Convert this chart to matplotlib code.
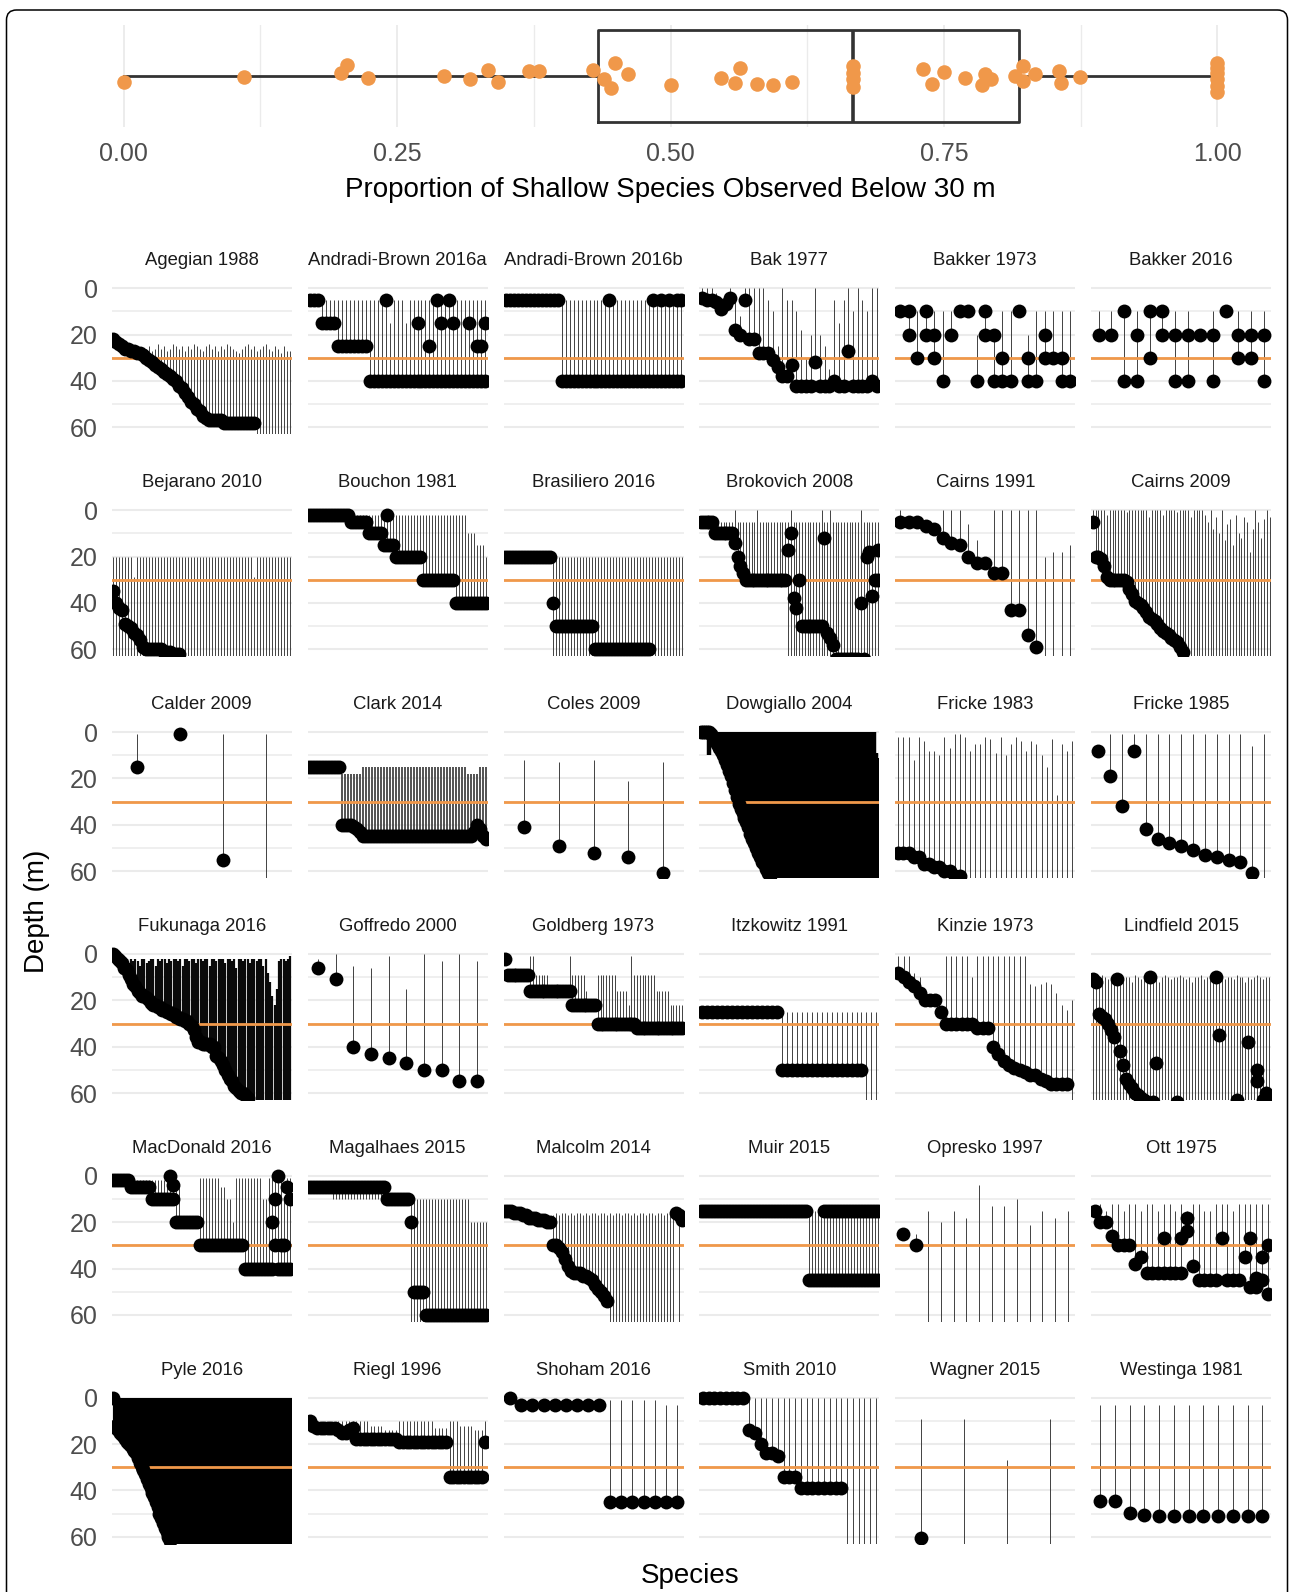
import numpy as np
import matplotlib
matplotlib.use("Agg")
import matplotlib.pyplot as plt
from matplotlib.patches import FancyBboxPatch
from matplotlib.transforms import IdentityTransform

plt.rcParams['font.family'] = ['Liberation Sans', 'DejaVu Sans']

# ---------------- top panel data ----------------
PROP_VALUES = [0.000, 0.110, 0.199, 0.204, 0.223, 0.293, 0.317, 0.333, 0.342, 0.371,
               0.380, 0.429, 0.439, 0.446, 0.449, 0.461, 0.500, 0.546, 0.559, 0.564,
               0.579, 0.594, 0.611, 0.667, 0.667, 0.667, 0.667, 0.731, 0.739, 0.750,
               0.769, 0.785, 0.788, 0.793, 0.815, 0.822, 0.822, 0.833, 0.855, 0.857,
               0.874, 1.000, 1.000, 1.000, 1.000, 1.000, 1.000]
PROP_JITTER = [-0.059, -0.007, 0.026, 0.105, -0.020, 0.000, -0.026, 0.059, -0.059, 0.049,
               0.049, 0.056, -0.026, -0.115, 0.131, 0.016, -0.092, -0.016, -0.066, 0.082,
               -0.082, -0.092, -0.059, 0.099, 0.033, -0.033, -0.105, 0.066, -0.082, 0.039,
               -0.023, -0.092, 0.016, -0.026, 0.000, 0.099, -0.049, 0.016, 0.049, -0.066,
               -0.007, 0.131, 0.082, 0.033, -0.033, -0.099, -0.158]
PROP_TICKS = [0.0, 0.25, 0.5, 0.75, 1.0]
PROP_TICKLABELS = ["0.00", "0.25", "0.50", "0.75", "1.00"]
DEPTH_TICKS = [0, 20, 40, 60]
THRESHOLD = 30

# ---------------- facet data (depths in m) ----------------
AGE_PT = [22,23,24,25,26,26,27,27,28,28,
          29,30,31,32,33,34,35,36,37,38,
          39,40,42,43,45,47,49,50,52,53,
          55,56,57,57,57,57,57,58,58,58,
          58,58,58,58,58,58,58,58,70,70,
          70,70,70,70,70,70,70,70,70,70]
AGE_TOP = [25,25,26,26,27,26,27,25,26,27,
           28,26,25,27,26,24,26,25,27,26,
           24,25,26,25,27,25,26,24,25,26,
           27,25,24,26,25,27,25,26,24,25,
           26,27,28,26,25,24,26,25,27,26,
           25,24,26,27,25,26,28,25,27,27]

ABA_PT = [5,5,5,15,15,15,15,25,25,25,
          25,25,25,25,25,40,40,40,40,5,
          40,40,40,40,40,40,40,15,40,40,
          25,40,5,15,40,5,15,40,40,40,
          15,40,25,25,15]
ABA_PT2 = {19: 40, 27: 40, 30: 40, 32: 40, 33: 40, 35: 40, 36: 40, 40: 40, 42: 40, 43: 40, 44: 40}
ABA_TOP = [5,5,5,5,5,5,5,5,5,5,
           5,5,5,5,5,5,5,5,5,5,
           15,5,5,5,15,5,5,5,5,5,
           5,5,5,5,5,5,5,5,5,5,
           5,5,5,5,5]

ABB_PT = [5,5,5,5,5,5,5,5,5,5,
          5,5,5,5,40,40,40,40,40,40,
          40,40,40,40,40,40,5,40,40,40,
          40,40,40,40,40,40,40,5,40,5,
          40,5,40,5,5]
ABB_PT2 = {26: 40, 37: 40, 39: 40, 41: 40, 43: 40, 44: 40}
ABB_TOP = 5

BAK77_PT = [4,5,5,6,9,7,4,18,20,5,
            22,22,28,28,28,31,34,38,38,33,
            42,42,42,42,32,42,42,42,40,42,
            42,27,42,42,42,42,40,42]
BAK77_TOP = [0,0,0,2,5,10,0,5,12,0,
             0,0,0,0,5,10,25,0,5,5,
             10,18,30,20,0,20,25,35,5,15,
             5,0,10,0,5,10,0,0]

BAK73_PT = [10,10,30,10,20,40,20,10,10,40,
            10,20,30,40,10,30,40,20,30,30,
            40]
BAK73_PT2 = {1: 20, 3: 20, 4: 30, 10: 20, 11: 40, 12: 40, 15: 40, 17: 30, 19: 40}
BAK73_TOP = [10,10,10,10,10,10,10,10,10,20,
             10,20,10,10,10,20,10,10,10,10,
             10]

BAK16_PT = [20,20,10,20,10,10,20,20,20,20,
            10,20,20,20]
BAK16_PT2 = {2: 40, 3: 40, 4: 30, 5: 20, 6: 40, 7: 40, 9: 40, 11: 30, 12: 30, 13: 40}
BAK16_TOP = [10,10,10,10,10,10,10,10,20,10,
             10,10,10,10]

BEJ_PT = [35,40,42,43,49,50,51,53,54,56,
          59,60,60,60,60,60,60,61,61,61,
          62,62,62,70,70,70,70,70,70,70,
          70,70,70,70,70,70,70,70,70,70,
          70,70,70,70,70,70,70,70,70,70,
          70,70,70,70,70,70,70,70,70,70]
BEJ_TOP = [20,20,20,20,20,20,20,29,20,20,
           20,20,20,20,20,20,20,20,20,20,
           20,20,20,20,20,20,20,20,20,20,
           20,20,20,20,20,20,20,20,20,20,
           20,20,20,20,20,20,20,29,20,20,
           20,20,20,20,20,20,20,20,20,20]
BEJ_BOT = 70

BOU_PT = [2,2,2,2,2,2,2,2,2,2,
          2,2,2,2,5,5,5,5,5,5,
          10,10,10,10,10,15,2,15,15,20,
          20,20,20,20,20,20,20,20,30,30,
          30,30,30,30,30,30,30,30,30,40,
          40,40,40,40,40,40,40,40,40,40]
BOU_PT2 = {26: 15}
BOU_TOP = [2,2,2,2,2,2,2,2,2,2,
           2,2,2,2,2,2,2,2,2,2,
           2,2,2,2,2,2,2,2,2,2,
           2,2,2,2,2,2,2,2,2,2,
           2,2,2,2,2,2,2,2,2,2,
           2,2,2,10,10,10,15,15,15,20]

BRA_PT = [20,20,20,20,20,20,20,20,20,20,
          20,20,20,20,20,20,40,50,50,50,
          50,50,50,50,50,50,50,50,50,50,
          60,60,60,60,60,60,60,60,60,60,
          60,60,60,60,60,60,60,60,60,70,
          70,70,70,70,70,70,70,70,70,70]
BRA_TOP = 20
BRA_BOT = [20,20,20,20,20,20,20,20,20,20,
           20,20,20,20,20,20,70,70,70,70,
           70,70,70,70,70,70,70,70,70,70,
           70,70,70,70,70,70,70,70,70,70,
           70,70,70,70,70,70,70,70,70,70,
           70,70,70,70,70,70,70,70,70,70]

BRO_PT = [5,5,5,5,5,10,10,10,10,10,
          10,10,14,20,24,27,30,30,30,30,
          30,30,30,30,30,30,30,30,30,30,
          30,17,10,38,42,30,50,50,50,50,
          50,50,50,50,12,53,55,58,64,64,
          64,64,64,64,64,64,64,40,64,20,
          18,37,30,17]
BRO_PT2 = {63: 30}
BRO_TOP = [5,5,5,5,5,5,5,5,5,5,
           5,5,0,5,5,5,5,5,5,5,
           0,5,5,5,5,5,5,5,5,5,
           5,5,0,5,5,5,5,5,5,5,
           5,5,5,0,5,5,0,5,5,5,
           5,5,5,5,5,5,5,0,5,5,
           5,5,5,5]
BRO_BOT = [5,5,5,5,5,10,10,10,10,10,
           10,10,14,20,24,27,30,30,30,30,
           30,30,30,30,30,30,30,30,30,30,
           30,70,70,70,70,70,70,70,70,70,
           70,70,70,70,70,70,70,70,70,70,
           70,70,70,70,70,70,70,70,70,70,
           70,70,70,70]

CAI91_PT = [5,5,5,7,8,12,14,15,20,23,
            23,27,27,43,43,54,59,70,70,70,
            70]
CAI91_TOP = [0,5,5,7,8,0,0,0,6,13,
             23,0,0,0,0,0,0,20,18,18,
             15]

CAI09_PT = [5,20,20,21,24,29,30,30,30,30,
            30,30,31,34,36,39,40,41,42,44,
            46,47,48,49,51,52,53,54,55,56,
            57,59,61,70,70,70,70,70,70,70,
            70,70,70,70,70,70,70,70,70,70,
            70,70,70,70,70,70,70,70,70,70,
            70,70,70,70]
CAI09_TOP = [0,0,0,0,0,2,0,0,0,0,
             0,0,1,0,0,0,0,0,0,0,
             3,0,0,0,0,2,0,0,0,0,
             1,0,0,0,0,3,0,0,0,0,
             2,5,0,8,3,10,0,13,6,4,
             15,2,10,12,3,5,18,8,0,5,
             12,4,0,3]

CAL_PT = [15, 1, 55, 70]
CAL_TOP = [1, 1, 1, 1]

CLA_PT = [15,15,15,15,15,15,15,15,15,15,
          15,40,40,40,40,41,42,43,45,45,
          45,45,45,45,45,45,45,45,45,45,
          45,45,45,45,45,45,45,45,45,45,
          45,45,45,45,45,45,45,45,45,45,
          45,45,45,45,45,43,40,42,45,46]
CLA_TOP = [15,15,15,15,15,15,15,15,15,15,
           15,18,18,18,18,18,18,18,15,15,
           15,15,15,15,15,15,15,15,15,15,
           15,15,15,15,15,15,15,15,15,15,
           15,15,15,15,15,15,15,15,15,15,
           15,15,15,18,18,18,18,15,15,15]

COL_PT = [41, 49, 52, 54, 61]
COL_TOP = [12, 13, 12, 21, 13]

DOW_PT = [0,0,0,0,0,1,2,4,5,7,
          8,10,12,14,17,19,22,25,28,31,
          33,35,37,39,41,44,46,48,50,52,
          54,56,57,59,61,62,70,70,70,70,
          70,70,70,70,70,70,70,70,70,70,
          70,70,70,70,70,70,70,70,70,70,
          70,70,70,70,70,70,70,70,70,70,
          70,70,70,70,70,70,70,70,70,70,
          70,70,70,70,70,70,70,70,70,70]
DOW_TOP = [0,0,0,0,0,0,0,0,0,0,
           0,0,0,0,0,0,0,0,0,0,
           0,0,0,7,0,0,0,0,0,0,
           0,4,0,0,0,0,5,0,0,0,
           0,0,0,0,0,18,0,0,0,0,
           0,0,0,0,0,0,0,11,0,0,
           0,7,0,0,0,9,0,0,0,7,
           0,0,0,0,0,0,0,0,0,0,
           0,0,24,0,0,11,0,0,9,11]
DOW_BOT = {4: 10}

FRI83_PT = [52,52,52,54,54,57,57,58,58,60,
            60,62,62,70,70,70,70,70,70,70,
            70,70,70,70,70,70,70,70,70,70,
            70,70,70,70,70]
FRI83_TOP = [2,2,2,12,2,4,8,8,10,2,
             7,1,1,2,8,5,5,2,3,9,
             2,10,5,2,4,8,4,5,10,15,
             3,27,5,8,4]

FRI85_PT = [8,19,32,8,42,46,48,49,51,53,
            54,55,56,61,70]
FRI85_TOP = [8,1,1,1,1,1,1,1,1,1,
             1,1,1,6,1]

FUK_PT = [0,1,2,3,4,6,7,9,11,13,
          14,16,17,18,18,19,20,21,22,22,
          23,23,24,24,25,25,26,26,27,27,
          28,28,29,29,30,31,33,36,38,38,
          39,39,39,39,40,40,44,45,46,48,
          50,52,54,55,57,58,59,60,60,61,
          62,70,70,70,70,70,70,70,70,70,
          70,70,70,70,70,70,70,70,70,70]
FUK_TOP = [2,2,2,2,2,3,2,4,2,3,
           2,3,5,2,2,4,3,2,2,5,
           2,3,2,2,4,2,3,2,2,3,
           2,5,2,2,3,2,2,4,2,2,
           3,2,2,5,2,2,3,2,2,2,
           4,2,2,3,2,6,2,2,3,2,
           2,4,2,2,3,2,2,5,2,8,
           12,18,22,15,3,2,2,3,2,1]

GOF_PT = [6, 11, 40, 43, 45, 47, 50, 50, 55, 55]
GOF_TOP = [2, 0, 5, 6, 1, 15, 0, 3, 0, 3]

GOL_PT = [2,9,9,9,9,9,9,9,9,16,
          16,16,16,16,16,16,16,16,16,16,
          16,16,16,16,22,22,22,22,22,22,
          22,22,22,30,30,30,30,30,30,30,
          30,30,30,30,30,30,30,32,32,32,
          32,32,32,32,32,32,32,32,32,32,
          32,32,32,32]
GOL_TOP = [2,9,9,9,9,9,9,9,9,1,
           1,9,9,9,9,9,16,16,16,16,
           16,16,16,1,9,9,9,9,9,16,
           22,22,22,9,9,9,9,9,9,9,
           16,16,16,16,22,1,9,9,9,9,
           9,9,9,9,16,16,16,16,16,22,
           22,22,22,22]

ITZ_PT = [25,25,25,25,25,25,25,25,25,25,
          25,25,25,25,25,25,50,50,50,50,
          50,50,50,50,50,50,50,50,50,50,
          50,50,50,70,70,70]
ITZ_TOP = 25

KIN_PT = [8,10,12,14,17,20,20,20,25,30,
          30,30,30,30,30,32,32,32,40,43,
          46,48,49,50,51,52,52,54,55,56,
          56,56,56,70]
KIN_TOP = [1,1,1,8,10,20,20,20,25,1,
           1,1,1,1,10,1,1,1,1,1,
           1,1,1,1,1,13,14,13,12,13,
           17,22,24,20]

LIN_PT = [11,12,26,27,28,30,33,36,11,42,
          48,54,56,58,60,61,62,63,64,10,
          64,47,70,70,70,70,70,70,64,70,
          70,70,70,70,70,70,70,70,70,70,
          70,10,35,70,70,70,70,70,63,70,
          70,70,38,70,70,50,70,63,60,64]
LIN_PT2 = {55: 55}
LIN_TOP = [10,11,10,9,10,11,10,12,10,9,
           11,10,10,12,9,10,11,10,9,10,
           11,10,12,10,9,10,11,10,10,9,
           10,11,10,12,10,10,9,11,10,10,
           12,10,9,10,11,10,10,11,9,10,
           10,12,10,11,10,9,10,11,10,10]
LIN_BOT = 70

MAC_PT = [2,2,2,2,2,2,5,5,5,5,
          5,5,5,10,10,10,10,10,10,0,
          4,20,20,20,20,20,20,20,20,30,
          30,30,30,30,30,30,30,30,30,30,
          30,30,30,30,40,40,40,40,40,40,
          40,40,40,20,10,0,30,30,5,10]
MAC_PT2 = {19: 10, 20: 10, 53: 40, 54: 30, 55: 40, 56: 40, 57: 40, 58: 40, 59: 40}
MAC_TOP = [2,2,2,2,2,2,2,2,2,2,
           2,2,2,2,2,2,2,2,2,0,
           2,4,4,20,20,20,20,20,20,1,
           1,1,1,1,1,1,5,5,10,10,
           20,1,1,1,1,1,1,1,1,1,
           10,10,1,1,1,1,1,10,1,1]

MAG_PT = [5,5,5,5,5,5,5,5,5,5,
          5,5,5,5,5,5,5,5,5,5,
          5,5,5,5,5,5,10,10,10,10,
          10,10,10,10,20,50,50,50,50,60,
          60,60,60,60,60,60,60,60,60,60,
          60,60,60,60,60,60,60,60,60,60]
MAG_TOP = [5,5,5,5,5,5,5,5,5,5,
           5,5,5,5,5,5,5,5,5,5,
           5,5,5,5,5,5,10,10,10,10,
           10,10,10,10,10,10,10,10,10,10,
           10,10,10,10,10,10,10,10,10,10,
           10,10,10,10,20,20,20,20,20,20]
MAG_BOT = [5,5,5,5,5,5,5,5,10,10,
           10,10,10,10,10,10,10,10,10,10,
           10,10,10,10,10,10,10,10,10,10,
           10,10,10,10,70,70,70,70,70,70,
           70,70,70,70,70,70,70,70,70,70,
           70,70,70,70,70,70,70,70,70,70]

MAL_PT = [15,15,15,16,16,16,17,17,18,18,
          18,19,19,19,20,20,30,30,31,33,
          36,39,41,42,42,42,43,43,44,45,
          47,49,50,52,54,70,70,70,70,70,
          70,70,70,70,70,70,70,70,70,70,
          70,70,70,70,70,70,70,16,17,19]
MAL_TOP = [15,15,15,16,16,16,17,17,18,18,
           18,19,19,19,20,20,17,16,17,16,
           16,17,16,17,16,16,17,16,17,16,
           16,17,16,16,17,16,17,16,16,17,
           16,16,17,16,17,16,16,17,16,16,
           17,16,16,17,16,17,16,16,16,19]
MAL_BOT = {58: 70}

MUI_PT = [15,15,15,15,15,15,15,15,15,15,
          15,15,15,15,15,15,15,15,15,15,
          15,15,15,15,15,15,15,15,15,15,
          15,15,15,15,15,15,45,45,45,45,
          45,45,45,45,45,45,45,45,45,45,
          45,45,45,45,45,45,45,45,45,45]
MUI_PT2 = {41: 15, 42: 15, 43: 15, 44: 15, 45: 15, 46: 15, 47: 15, 48: 15, 49: 15, 50: 15,
           51: 15, 52: 15, 53: 15, 54: 15, 55: 15, 56: 15, 57: 15, 58: 15, 59: 15}
MUI_TOP = 15

OPR_PT = [25, 30, 70, 70, 70, 70, 70, 70, 70, 70, 70, 70, 70, 70]
OPR_TOP = [25, 25, 15, 20, 15, 18, 4, 13, 13, 10, 21, 15, 18, 15]

OTT_PT = [15,20,20,26,30,30,30,38,35,42,
          42,42,27,42,42,27,24,39,45,45,
          45,45,27,45,45,45,35,27,44,35,
          30]
OTT_PT2 = {12: 42, 15: 42, 16: 18, 27: 48, 28: 48, 29: 45, 30: 51}
OTT_TOP = [15,12,15,12,12,15,12,12,15,12,
           12,15,12,12,15,12,15,12,12,15,
           15,12,12,12,15,12,12,12,12,12,
           12]

PYL_PT = [0,12,13,14,15,16,17,18,19,20,
          21,22,23,24,26,28,30,31,33,35,
          37,39,41,43,45,47,50,52,54,56,
          58,60,62,70,70,70,70,70,70,70,
          70,70,70,70,70,70,70,70,70,70,
          70,70,70,70,70,70,70,70,70,70,
          70,70,70,70,70,70,70,70,70,70,
          70,70,70,70,70,70,70,70,70,70,
          70,70,70,70,70,70,70,70,70,70,
          70,70,70,70,70,70,70,70,70,70]
PYL_TOP = [0,0,0,0,0,0,0,0,0,0,
           0,0,3,0,0,0,0,0,5,0,
           0,0,0,0,0,0,0,0,0,0,
           2,0,0,0,0,0,0,0,0,0,
           4,0,0,0,0,0,0,0,0,0,
           3,0,0,0,0,0,0,0,8,0,
           0,0,0,0,0,3,0,0,0,0,
           0,0,2,0,0,0,0,0,5,0,
           0,0,0,0,19,0,0,0,4,0,
           0,13,0,0,0,0,0,0,8,0]

RIE_PT = [10,12,13,13,13,13,13,13,14,15,
          15,14,13,18,18,18,18,18,18,18,
          18,18,18,18,18,19,19,19,19,19,
          19,19,19,19,19,19,19,19,19,34,
          34,34,34,34,34,34,34,34,34,19]
RIE_TOP = [10,12,13,13,13,13,13,13,10,10,
           10,10,10,10,10,10,10,12,12,12,
           12,14,14,14,14,10,10,10,10,10,
           10,10,10,10,10,13,13,13,13,10,
           10,10,12,12,12,12,14,14,14,10]

SHO_PT = [0, 3, 3, 3, 3, 3, 3, 3, 3, 45, 45, 45, 45, 45, 45, 45]
SHO_TOP = [0, 3, 3, 3, 3, 3, 3, 3, 3, 1, 1, 1, 1, 1, 3, 3]

SMI_PT = [0,0,0,0,0,0,0,0,14,15,
          20,24,24,25,34,34,34,39,39,39,
          39,39,39,39,39,70,70,70,70,70,
          70]
SMI_TOP = 0

WAG_PT = [60.5, 70, 70, 70]
WAG_TOP = [9, 9, 27, 9]

WES_PT = [44.5, 44.5, 49.5, 50.5, 51, 51, 51, 51, 51, 51, 51, 51]
WES_TOP = 3

STUDIES = ["Agegian 1988", "Andradi-Brown 2016a", "Andradi-Brown 2016b", "Bak 1977", "Bakker 1973", "Bakker 2016",
           "Bejarano 2010", "Bouchon 1981", "Brasiliero 2016", "Brokovich 2008", "Cairns 1991", "Cairns 2009",
           "Calder 2009", "Clark 2014", "Coles 2009", "Dowgiallo 2004", "Fricke 1983", "Fricke 1985",
           "Fukunaga 2016", "Goffredo 2000", "Goldberg 1973", "Itzkowitz 1991", "Kinzie 1973", "Lindfield 2015",
           "MacDonald 2016", "Magalhaes 2015", "Malcolm 2014", "Muir 2015", "Opresko 1997", "Ott 1975",
           "Pyle 2016", "Riegl 1996", "Shoham 2016", "Smith 2010", "Wagner 2015", "Westinga 1981"]

# (points, second points, segment top, segment bottom) for each study, in STUDIES order
PANEL_DATA = [
    (AGE_PT, None, AGE_TOP, None), (ABA_PT, ABA_PT2, ABA_TOP, None), (ABB_PT, ABB_PT2, ABB_TOP, None),
    (BAK77_PT, None, BAK77_TOP, None), (BAK73_PT, BAK73_PT2, BAK73_TOP, None), (BAK16_PT, BAK16_PT2, BAK16_TOP, None),
    (BEJ_PT, None, BEJ_TOP, BEJ_BOT), (BOU_PT, BOU_PT2, BOU_TOP, None), (BRA_PT, None, BRA_TOP, BRA_BOT),
    (BRO_PT, BRO_PT2, BRO_TOP, BRO_BOT), (CAI91_PT, None, CAI91_TOP, None), (CAI09_PT, None, CAI09_TOP, None),
    (CAL_PT, None, CAL_TOP, None), (CLA_PT, None, CLA_TOP, None), (COL_PT, None, COL_TOP, None),
    (DOW_PT, None, DOW_TOP, DOW_BOT), (FRI83_PT, None, FRI83_TOP, None), (FRI85_PT, None, FRI85_TOP, None),
    (FUK_PT, None, FUK_TOP, None), (GOF_PT, None, GOF_TOP, None), (GOL_PT, None, GOL_TOP, None),
    (ITZ_PT, None, ITZ_TOP, None), (KIN_PT, None, KIN_TOP, None), (LIN_PT, LIN_PT2, LIN_TOP, LIN_BOT),
    (MAC_PT, MAC_PT2, MAC_TOP, None), (MAG_PT, None, MAG_TOP, MAG_BOT), (MAL_PT, None, MAL_TOP, MAL_BOT),
    (MUI_PT, MUI_PT2, MUI_TOP, None), (OPR_PT, None, OPR_TOP, None), (OTT_PT, OTT_PT2, OTT_TOP, None),
    (PYL_PT, None, PYL_TOP, None), (RIE_PT, None, RIE_TOP, None), (SHO_PT, None, SHO_TOP, None),
    (SMI_PT, None, SMI_TOP, None), (WAG_PT, None, WAG_TOP, None), (WES_PT, None, WES_TOP, None),
]

# ---------------- styles ----------------
ORANGE = '#F0984A'
GRID = '#EBEBEB'
SEG_COLOR = '#333333'
SEG_LW = 0.65
SEG_STYLE_OVERRIDE = {"Dowgiallo 2004": (3.2, '#000000'), "Pyle 2016": (3.0, '#000000'),
                      "Fukunaga 2016": (1.6, '#0A0A0A'), "Clark 2014": (1.3, '#444444')}
PT_SIZE = 100

W, H = 1290, 1592
fig = plt.figure(figsize=(W / 100, H / 100), dpi=100)


def rect(left, top, width, height):
    return [left / W, 1 - (top + height) / H, width / W, height / H]


# border
border = FancyBboxPatch((6.5, -40), 1281, 1582 + 40, boxstyle="round,pad=0,rounding_size=10",
                        transform=IdentityTransform(), fill=False, ec='black', lw=1.1)
fig.add_artist(border)

# ---------------- top panel ----------------
axt = fig.add_axes(rect(69, 25, 1203, 102))
axt.set_xlim(-0.05, 1.05)
axt.set_ylim(0.5, 1.5)
for s in axt.spines.values():
    s.set_visible(False)
axt.set_xticks(PROP_TICKS)
axt.set_xticklabels(PROP_TICKLABELS)
axt.set_xticks([0.125, 0.375, 0.625, 0.875], minor=True)
axt.set_yticks([])
axt.tick_params(axis='x', which='both', length=0, pad=11, labelsize=18, labelcolor='#4D4D4D')
axt.grid(True, axis='x', which='major', color=GRID, lw=1.3)
axt.grid(True, axis='x', which='minor', color=GRID, lw=1.0)
axt.set_axisbelow(True)
lc = '#333333'
axt.boxplot(PROP_VALUES, orientation='horizontal', positions=[1], widths=0.9, showfliers=False,
            showcaps=False, boxprops=dict(color=lc, lw=2.0), whiskerprops=dict(color=lc, lw=2.0),
            medianprops=dict(color=lc, lw=2.6), manage_ticks=False)
axt.scatter(PROP_VALUES, 1 + np.asarray(PROP_JITTER), s=110, color=ORANGE, zorder=5, lw=0)
fig.text(670.5 / W, 1 - 190 / H, "Proportion of Shallow Species Observed Below 30 m",
         ha='center', va='center', fontsize=20, color='black')

# ---------------- facets ----------------
def as_array(v, n, name):
    a = np.asarray(v, dtype=float)
    if a.ndim == 0:
        return np.full(n, float(a))
    if len(a) != n:
        raise ValueError(f"{name}: length {len(a)} != {n}")
    return a


for k, (title, (pt, pt2, top, bot)) in enumerate(zip(STUDIES, PANEL_DATA)):
    r, c = divmod(k, 6)
    ax = fig.add_axes(rect(111.7 + 195.9 * c, 281.3 + 221.9 * r, 180, 153))
    p1 = np.asarray(pt, dtype=float)
    n = len(p1)
    x = np.arange(1, n + 1)
    p2 = np.full(n, np.nan)
    if pt2:
        for i, v in pt2.items():
            p2[i] = v
    topa = as_array(top, n, title + " top")
    deep = np.fmax(p1, p2)
    if bot is None:
        bota = deep
    elif isinstance(bot, dict):
        bota = deep.copy()
        for i, v in bot.items():
            bota[i] = v
    else:
        bota = as_array(bot, n, title + " bottom")

    lw, col = SEG_STYLE_OVERRIDE.get(title, (SEG_LW, SEG_COLOR))
    ax.vlines(x, topa, bota, color=col, lw=lw, zorder=2)
    ax.axhline(THRESHOLD, color=ORANGE, lw=2.0, zorder=3)
    ax.scatter(x, p1, s=PT_SIZE, color='black', lw=0, zorder=4)
    m = ~np.isnan(p2)
    if m.any():
        ax.scatter(x[m], p2[m], s=PT_SIZE, color='black', lw=0, zorder=4)

    ax.set_xlim(0.4, n + 0.6)
    ax.set_ylim(63, -3)
    for s in ax.spines.values():
        s.set_visible(False)
    ax.set_xticks([])
    ax.set_yticks(DEPTH_TICKS)
    ax.set_yticks([10, 30, 50], minor=True)
    ax.grid(True, axis='y', which='major', color=GRID, lw=1.5)
    ax.grid(True, axis='y', which='minor', color=GRID, lw=1.1)
    ax.set_axisbelow(True)
    ax.tick_params(axis='y', which='both', length=0, pad=10, labelsize=18, labelcolor='#4D4D4D')
    if c != 0:
        ax.set_yticklabels([])
    ax.text(0.5, 1 + 20.5 / 153, title, transform=ax.transAxes, ha='center', va='center',
            fontsize=13.3, color='#1A1A1A')

fig.text(37.5 / W, 1 - 911 / H, "Depth (m)", rotation=90, ha='center', va='center', fontsize=20)
fig.text(690 / W, 1 - 1576 / H, "Species", ha='center', va='center', fontsize=20)

fig.savefig("out.png", dpi=100)
